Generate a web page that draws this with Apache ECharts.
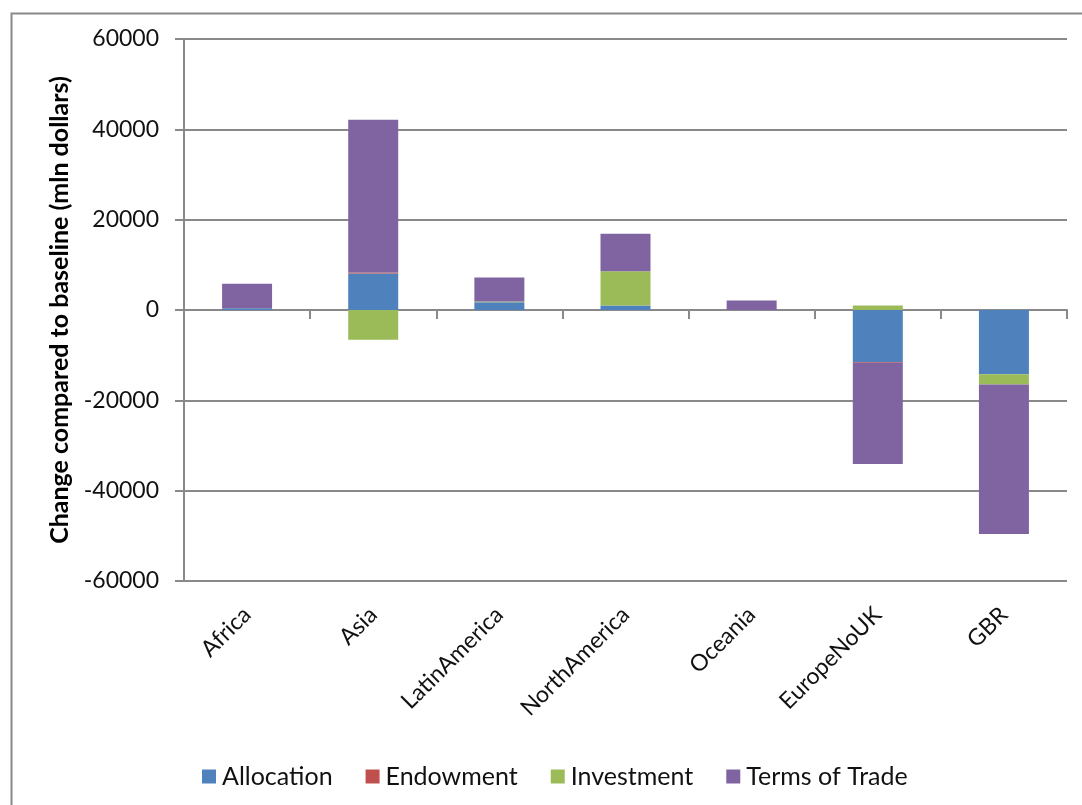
<!DOCTYPE html>
<html>
<head>
<meta charset="utf-8">
<script src="https://cdn.jsdelivr.net/npm/echarts@6/dist/echarts.min.js"></script>
<style>
  html, body { margin: 0; padding: 0; background: #fff; }
  #chart { width: 1082px; height: 805px; }
</style>
</head>
<body>
<div id="chart"></div>
<script>
// Regions on the category axis
const regions = ['Africa', 'Asia', 'LatinAmerica', 'NorthAmerica', 'Oceania', 'EuropeNoUK', 'GBR'];

// Welfare decomposition, change compared to baseline (mln dollars)
const allocation   = [400,   8100,  1700, 1000, 0,    -11500, -14200];
const endowment    = [0,     200,   0,    0,    0,    -200,   0];
const investment   = [0,    -6600,  200,  7600, 0,     1000,  -2300];
const termsOfTrade = [5400,  33800, 5300, 8300, 2100, -22400, -33100];

// Value axis ticks
const yMin = -60000, yMax = 60000, yStep = 20000;

const seriesNames = ['Allocation', 'Endowment', 'Investment', 'Terms of Trade'];
const seriesData = [allocation, endowment, investment, termsOfTrade];
const colors = ['#4F81BD', '#C0504D', '#9BBB59', '#8064A2'];

const FONT = 'Lato';
const AXIS_GRAY = '#898989';
const TEXT = '#111111';

const chart = echarts.init(document.getElementById('chart'), null, { renderer: 'canvas' });

chart.setOption({
  animation: false,
  backgroundColor: '#ffffff',
  color: colors,
  textStyle: { fontFamily: FONT },
  graphic: [{
    type: 'rect',
    left: 9, top: 11,
    shape: { width: 1200, height: 900 },
    style: { fill: 'none', stroke: AXIS_GRAY, lineWidth: 2 },
    silent: true, z: -10
  }],
  grid: { left: 184, right: 15, top: 39, bottom: 224, containLabel: false },
  legend: {
    data: seriesNames,
    left: 197,
    top: 759,
    itemWidth: 14,
    itemHeight: 14,
    itemGap: 33,
    icon: 'rect',
    textStyle: { fontFamily: FONT, fontSize: 25, color: TEXT, padding: [0, 0, 0, 1] }
  },
  xAxis: [{
    // axis through zero with the band ticks
    type: 'category',
    data: regions,
    position: 'bottom',
    axisLine: { onZero: true, lineStyle: { color: AXIS_GRAY, width: 2 } },
    axisTick: { show: true, length: 9, lineStyle: { color: AXIS_GRAY, width: 2 } },
    axisLabel: { show: false },
    splitLine: { show: false }
  }, {
    // category names below the plot
    type: 'category',
    data: regions,
    position: 'bottom',
    axisLine: { show: false, onZero: false },
    axisTick: { show: false },
    axisLabel: {
      rotate: 45,
      margin: 30,
      interval: 0,
      fontFamily: FONT,
      fontSize: 23,
      color: TEXT
    },
    splitLine: { show: false }
  }],
  yAxis: {
    type: 'value',
    min: yMin,
    max: yMax,
    interval: yStep,
    name: 'Change compared to baseline (mln dollars)',
    nameLocation: 'middle',
    nameGap: 112,
    nameRotate: 90,
    nameTextStyle: { fontFamily: FONT, fontSize: 25, fontWeight: 'bold', color: '#000' },
    axisLine: { show: true, lineStyle: { color: AXIS_GRAY, width: 2 } },
    axisTick: { show: true, length: 9, lineStyle: { color: AXIS_GRAY, width: 2 } },
    axisLabel: {
      fontFamily: FONT, fontSize: 23, color: TEXT, margin: 25,
      formatter: (v) => String(v)
    },
    splitLine: { show: true, lineStyle: { color: AXIS_GRAY, width: 2 } }
  },
  series: seriesNames.map((name, i) => ({
    name: name,
    type: 'bar',
    stack: 'total',
    xAxisIndex: 0,
    barWidth: 50,
    data: seriesData[i],
    itemStyle: { color: colors[i] }
  }))
});
</script>
</body>
</html>
